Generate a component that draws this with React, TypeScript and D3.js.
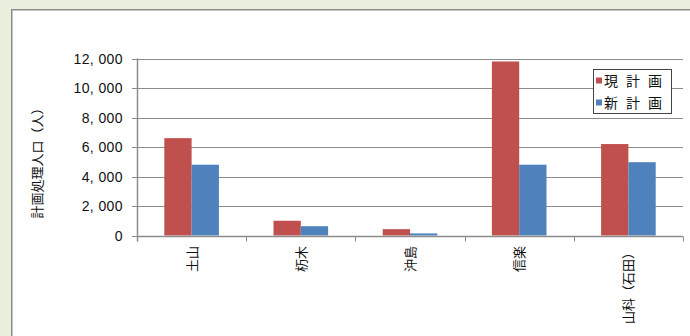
import React, { useEffect, useRef } from "react";
import * as d3 from "d3";

const categories = ["土山", "杤木", "沖島", "信楽", "山科（石田）"];
const seriesNames = ["現計画", "新計画"];
const currentPlan = [6600, 1000, 430, 11800, 6200];
const newPlan = [4800, 630, 140, 4800, 4970];
const yTicks = [0, 2000, 4000, 6000, 8000, 10000, 12000];
const colors = ["#C0504D", "#4F81BD"];

const W = 690;
const H = 336;

export default function App() {
  const ref = useRef<SVGSVGElement>(null);

  useEffect(() => {
    const svg = d3.select(ref.current);
    svg.selectAll("*").remove();

    const font = "'Noto Sans CJK JP', 'Liberation Sans', Arial, sans-serif";
    const numFont = "'Liberation Sans', Arial, sans-serif";

    // background
    svg.append("rect").attr("x", 0).attr("y", 0).attr("width", W).attr("height", H).attr("fill", "#EBEFDE");
    svg.append("rect").attr("x", 11).attr("y", 9).attr("width", W).attr("height", H).attr("fill", "#ffffff");
    svg.append("line").attr("x1", 11).attr("x2", W).attr("y1", 9.5).attr("y2", 9.5).attr("stroke", "#8a8a8a").attr("stroke-width", 1);
    svg.append("line").attr("x1", 11).attr("x2", W).attr("y1", 10.5).attr("y2", 10.5).attr("stroke", "#c4c4c4").attr("stroke-width", 1);
    svg.append("line").attr("x1", 11.5).attr("x2", 11.5).attr("y1", 9).attr("y2", H).attr("stroke", "#8a8a8a").attr("stroke-width", 1);
    svg.append("line").attr("x1", 12.5).attr("x2", 12.5).attr("y1", 10).attr("y2", H).attr("stroke", "#c4c4c4").attr("stroke-width", 1);

    const left = 137;
    const right = 683;
    const y = d3.scaleLinear().domain([0, 12000]).range([235.5, 58.5]);
    const x = d3.scaleBand<string>().domain(categories).range([left, right]).padding(0);
    const step = x.bandwidth();
    const barW = step * 0.25;

    // gridlines
    svg.append("g").selectAll("line").data(yTicks.filter((t) => t > 0)).join("line")
      .attr("x1", left).attr("x2", right)
      .attr("y1", (d) => Math.round(y(d)) + 0.5).attr("y2", (d) => Math.round(y(d)) + 0.5)
      .attr("stroke", "#8c8c8c").attr("stroke-width", 1);

    // bars
    const series = [currentPlan, newPlan];
    series.forEach((vals, si) => {
      svg.append("g").selectAll("rect").data(categories).join("rect")
        .attr("x", (c) => (x(c) as number) + barW + si * barW)
        .attr("y", (c, i) => y(vals[i]))
        .attr("width", barW)
        .attr("height", (c, i) => y(0) - y(vals[i]))
        .attr("fill", colors[si]);
    });

    // y axis
    const y0 = Math.round(y(0)) + 0.5;
    svg.append("line").attr("x1", left + 0.5).attr("x2", left + 0.5).attr("y1", y(12000)).attr("y2", y0 + 5)
      .attr("stroke", "#8c8c8c").attr("stroke-width", 1.5);
    svg.append("g").selectAll("line").data(yTicks).join("line")
      .attr("x1", left - 5).attr("x2", left)
      .attr("y1", (d) => Math.round(y(d)) + 0.5).attr("y2", (d) => Math.round(y(d)) + 0.5)
      .attr("stroke", "#8c8c8c").attr("stroke-width", 1);
    svg.append("g").selectAll("text").data(yTicks).join("text")
      .attr("x", 123).attr("y", (d) => y(d))
      .attr("dy", "0.36em")
      .attr("text-anchor", "end")
      .attr("font-family", numFont).attr("font-size", 14).attr("fill", "#111")
      .attr("letter-spacing", 0.4)
      .attr("xml:space", "preserve")
      .style("white-space", "pre")
      .text((d) => d3.format(",")(d).replace(",", ", "));

    // x axis
    svg.append("line").attr("x1", left).attr("x2", right).attr("y1", y0).attr("y2", y0)
      .attr("stroke", "#8c8c8c").attr("stroke-width", 1.5);
    const tickXs = categories.map((c) => x(c) as number).concat([right]);
    svg.append("g").selectAll("line").data(tickXs).join("line")
      .attr("x1", (d) => Math.round(d) + 0.5).attr("x2", (d) => Math.round(d) + 0.5)
      .attr("y1", y0).attr("y2", y0 + 5)
      .attr("stroke", "#8c8c8c").attr("stroke-width", 1);
    svg.append("g").selectAll("text").data(categories).join("text")
      .attr("transform", (c) => `translate(${(x(c) as number) + step / 2 + 5},246) rotate(-90)`)
      .attr("text-anchor", "end")
      .attr("font-family", font).attr("font-size", 13).attr("fill", "#111")
      .text((c) => c);

    // y title
    svg.append("text")
      .attr("transform", `translate(42,160) rotate(-90)`)
      .attr("text-anchor", "middle")
      .attr("font-family", font).attr("font-size", 13).attr("fill", "#111")
      .text("計画処理人口（人）");

    // legend
    const lg = svg.append("g");
    lg.append("rect").attr("x", 593.5).attr("y", 69.5).attr("width", 78).attr("height", 44)
      .attr("fill", "#fff").attr("stroke", "#444").attr("stroke-width", 1);
    const ly = [80.5, 102.5];
    seriesNames.forEach((n, i) => {
      lg.append("rect").attr("x", 596).attr("y", ly[i] - 3).attr("width", 6).attr("height", 6).attr("fill", colors[i]);
      lg.append("text").attr("x", 604).attr("y", ly[i]).attr("dy", "0.36em")
        .attr("font-family", font).attr("font-size", 14).attr("fill", "#111")
        .attr("textLength", 58).attr("lengthAdjust", "spacing")
        .text(n);
    });
  }, []);

  return (
    <div style={{ position: "fixed", left: 0, top: 0 }}>
      <svg ref={ref} width={W} height={H} style={{ display: "block" }} />
    </div>
  );
}
